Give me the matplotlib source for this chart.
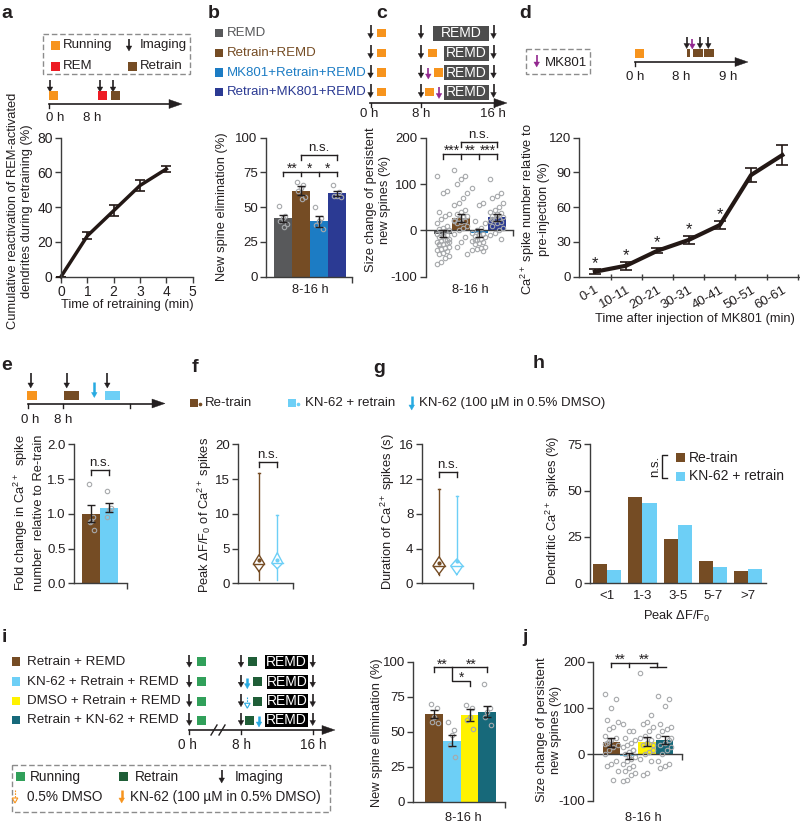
import numpy as np
import matplotlib
matplotlib.use('Agg')
import matplotlib.pyplot as plt
from matplotlib.patches import Rectangle, Polygon

plt.rcParams['font.family'] = ['Liberation Sans', 'DejaVu Sans']
plt.rcParams['mathtext.fontset'] = 'custom'
plt.rcParams['mathtext.rm'] = 'Liberation Sans'
plt.rcParams['mathtext.it'] = 'Liberation Sans:italic'
plt.rcParams['mathtext.bf'] = 'Liberation Sans:bold'
plt.rcParams['axes.unicode_minus'] = False
plt.rcParams['font.size'] = 9.5

TXT = '#231f20'
SP = '#3c3c3c'
PT = '#a7a9ac'
ORANGE = '#f7941d'; RED = '#ed1c24'; BROWN = '#754c24'; DGRAY = '#58595b'
MKBLUE = '#1c7cc4'; NAVY = '#2b3a93'; PURPLE = '#92278f'; LBLUE = '#6dcff6'
CYAN = '#27aae1'; YELLOW = '#fff200'; TEAL = '#17697a'; GREEN = '#31a05a'; DGREEN = '#1f5e37'
FL = 9.3    # axis label size
FT = 9.5    # tick label size
FG = 9.5    # legend text size

# ---------------- data ----------------
a_time = [0, 1, 2, 3, 4]
a_react = [0, 23.5, 38, 52.5, 62]
a_err = [0, 2, 3, 3, 1.5]

b_groups = ['REMD', 'Retrain+REMD', 'MK801+Retrain+REMD', 'Retrain+MK801+REMD']
b_colors = [DGRAY, BROWN, MKBLUE, NAVY]
b_elim = [42, 62, 40, 60]
b_sem = [2.5, 3, 4, 2]
b_pts = [[51, 44, 42, 40, 38, 36],
         [68, 66, 64, 62, 57, 56],
         [50, 42, 40, 37, 34],
         [66, 61, 58, 58, 57]]

c_size = [-7, 27, -6, 28]
c_sem = [8, 9, 9, 8]
c_pts = [[118, 85, 80, 40, 35, 30, 25, 15, 10, 5, 3, 0, -2, -5, -8, -10, -12, -15, -18, -20,
          -22, -25, -27, -30, -32, -35, -38, -40, -42, -45, -48, -50, -55, -60, -68, -72, -20, -10, -30, -25],
         [130, 118, 110, 100, 80, 70, 60, 55, 45, 40, 35, 30, 28, 25, 22, 20, 18, 15, 10, 5,
          0, -8, -15, -25, -35, -52, 30, 25, 20],
         [92, 60, 55, 20, 15, 5, 0, -5, -8, -10, -12, -15, -18, -20, -22, -25, -28, -30, -35, -38,
          -40, -42, -45, -10, -20],
         [110, 80, 75, 70, 60, 50, 45, 40, 38, 35, 30, 28, 25, 22, 20, 18, 15, 10, 5, 0,
          -5, -10, -18, 30, 25]]

d_cats = ['0-1', '10-11', '20-21', '30-31', '40-41', '50-51', '60-61']
d_val = [4.3, 9.5, 22.4, 31.7, 44.6, 87.8, 105]
d_err = [2, 3.3, 2, 3.7, 3.6, 6, 9]
d_sig = [True, True, True, True, True, False, False]

e_groups = ['Re-train', 'KN-62 + retrain']
e_colors = [BROWN, LBLUE]
e_fold = [1.0, 1.09]
e_sem = [0.12, 0.07]
e_pts = [[1.43, 0.95, 0.9, 0.88, 0.76], [1.33, 1.08, 1.05, 0.96]]

# violin-style summaries: min, diamond low, median, mean, diamond high, max
f_min = [0.5, 0.5]; f_low = [1.7, 2.1]; f_med = [2.8, 2.9]; f_mean = [3.3, 3.4]; f_high = [4.1, 4.4]; f_max = [15.8, 9.8]
g_min = [1.0, 1.0]; g_low = [1.07, 1.0]; g_med = [2.0, 2.0]; g_mean = [2.3, 2.6]; g_high = [3.06, 2.8]; g_max = [10.9, 10.0]

h_bins = ['<1', '1-3', '3-5', '5-7', '>7']
h_retrain = [10.3, 46.4, 23.7, 12.0, 6.6]
h_kn62 = [7.2, 43.5, 31.3, 9.0, 7.7]

i_groups = ['Retrain + REMD', 'KN-62 + Retrain + REMD', 'DMSO + Retrain + REMD', 'Retrain + KN-62 + REMD']
i_colors = [BROWN, LBLUE, YELLOW, TEAL]
i_elim = [62.5, 43.5, 62, 64.3]
i_sem = [3, 4, 4, 4]
i_pts = [[70, 66.7, 60.7, 57, 56],
         [57, 51, 47.6, 40.5, 32],
         [69, 66.7, 60.7, 58.4, 51.7],
         [84, 66.7, 64, 60.7, 54.8]]

j_size = [26, -4, 27, 31]
j_sem = [10, 7, 10, 9]
j_pts = [[130, 120, 100, 75, 70, 60, 55, 40, 35, 30, 25, 20, 15, 10, 0, -15, -20, -25, -35, -55, 28, 22],
         [65, 50, 50, 35, 30, 25, 20, 15, 10, 5, 0, -5, -10, -15, -20, -25, -30, -35, -40, -45, -55, -58, 10, -5],
         [175, 85, 70, 65, 60, 50, 40, 35, 30, 25, 20, 10, 5, 0, -10, -15, -40, -45, 20],
         [125, 120, 105, 65, 60, 55, 50, 40, 30, 25, 20, 15, 10, 0, -15, -20, -25, -30, 35]]

# ---------------- figure ----------------
W, H = 800, 824
fig = plt.figure(figsize=(8, 8.24), dpi=100)
ov = fig.add_axes([0, 0, 1, 1])
ov.set_xlim(0, W); ov.set_ylim(H, 0); ov.axis('off')


def add_ax(l, t, r, b):
    ax = fig.add_axes([l / W, 1 - b / H, (r - l) / W, (b - t) / H])
    ax.set_facecolor('none')
    for s in ('top', 'right'):
        ax.spines[s].set_visible(False)
    for s in ('left', 'bottom'):
        ax.spines[s].set_color(SP); ax.spines[s].set_linewidth(1.0)
    ax.tick_params(direction='out', length=4, width=1, colors=SP, labelcolor=TXT, labelsize=FT, pad=2)
    return ax


def t(x, y, s, **kw):
    kw.setdefault('color', TXT); kw.setdefault('fontsize', FG)
    kw.setdefault('va', 'center')
    ov.text(x, y, s, **kw)


def sq(x, y, c, w=9, h=None):
    h = w if h is None else h
    ov.add_patch(Rectangle((x - w / 2, y - h / 2), w, h, facecolor=c, edgecolor='none', lw=0))


def darrow(x, ytop, ybot, c=TXT, hollow=False, lw=1.2):
    head = 5
    if hollow:
        ov.plot([x, x], [ytop, ybot - head], color=c, lw=0.8, ls=(0, (1.5, 1)))
        ov.add_patch(Polygon([(x - 2.8, ybot - head), (x + 2.8, ybot - head), (x, ybot)], closed=True,
                             facecolor='white', edgecolor=c, lw=0.8))
    else:
        ov.plot([x, x], [ytop, ybot - head + 1], color=c, lw=lw, solid_capstyle='butt')
        ov.add_patch(Polygon([(x - 2.8, ybot - head), (x + 2.8, ybot - head), (x, ybot)], closed=True,
                             facecolor=c, edgecolor=c, lw=0.3))


def taxis(x0, x1, y, ticks):
    ov.plot([x0, x1 - 10], [y, y], color=TXT, lw=1.2)
    ov.add_patch(Polygon([(x1 - 13, y - 4.5), (x1 - 13, y + 4.5), (x1, y)], closed=True,
                         facecolor=TXT, edgecolor=TXT, lw=0.3))
    for tk in ticks:
        ov.plot([tk, tk], [y, y + 4], color=TXT, lw=1)


def dbox(x0, y0, x1, y1):
    ov.add_patch(Rectangle((x0, y0), x1 - x0, y1 - y0, facecolor='none', edgecolor='#8c8c8c',
                           lw=1, ls=(0, (4, 2))))


def remd(x0, x1, y, c, h=15, fs=10):
    ov.add_patch(Rectangle((x0, y - h / 2), x1 - x0, h, facecolor=c, edgecolor='none'))
    t((x0 + x1) / 2, y, 'REMD', ha='center', color='white', fontsize=fs)


def plabel(x, y, s):
    t(x, y, s, fontweight='bold', fontsize=14, ha='left')


def bracket(ax, xs, y, drop, lw=1):
    ax.plot([min(xs), max(xs)], [y, y], color=TXT, lw=lw, clip_on=False)
    for xx in xs:
        ax.plot([xx, xx], [y, y - drop], color=TXT, lw=lw, clip_on=False)


def stars(ax, x, y, s, fs=10):
    ax.text(x, y, s, ha='center', va='baseline', fontsize=fs, color=TXT, clip_on=False)


def ns(ax, x, y):
    ax.text(x, y, 'n.s.', ha='center', va='bottom', fontsize=FG, color=TXT, clip_on=False)


def jitter(n, spread):
    return [(((k * 5) % 7) - 3) / 3.0 * spread for k in range(n)]


def dots(ax, i, vals, spread):
    off = jitter(len(vals), spread)
    ax.plot([i + o for o in off], vals, 'o', ms=3.2, mfc='none', mec=PT, mew=0.8, clip_on=False, zorder=3)


def errs(ax, x, m, e, cap=3):
    ax.errorbar(x, m, yerr=e, fmt='none', ecolor=TXT, elinewidth=1, capsize=cap, capthick=1, zorder=4, clip_on=False)


def ylab(x, y, s, ls=1.25):
    t(x, y, s, rotation=90, ha='center', multialignment='center', fontsize=FL, linespacing=ls)


# ================= panel a =================
plabel(1, 13, 'a')
dbox(43, 34, 190, 74)
sq(55, 45, ORANGE); t(63, 45, 'Running')
darrow(129, 39, 51); t(140, 45, 'Imaging')
sq(55, 66, RED); t(63, 66, 'REM')
sq(132, 66, BROWN); t(140, 66, 'Retrain')
for ax_ in (50, 100, 113):
    darrow(ax_, 80, 92)
sq(53, 95.5, ORANGE); sq(102.7, 95.5, RED); sq(115.7, 95.5, BROWN)
taxis(49, 182, 104, [49])
t(55, 118, '0 h', ha='center'); t(92, 118, '8 h', ha='center')

axa = add_ax(61, 137.7, 192.7, 276.7)
axa.set_xlim(0, 5); axa.set_ylim(0, 80)
axa.set_xticks(range(6)); axa.set_yticks([0, 20, 40, 60, 80])
axa.tick_params(labelsize=10)
axa.errorbar(a_time, a_react, yerr=a_err, color='#231815', lw=2.5, elinewidth=1.2, capsize=3.5,
             capthick=1.2, clip_on=False)
ylab(20, 211, 'Cumulative reactivation of REM-activated\ndendrites during retraining (%)', ls=1.3)
t(127, 305, 'Time of retraining (min)', ha='center', fontsize=FL)

# ================= panel b =================
plabel(208, 13, 'b')
for k, (g, c) in enumerate(zip(b_groups, b_colors)):
    yy = [33, 53, 72.5, 92][k]
    sq(219, yy, c, w=8.5)
    t(227, yy, g, color=c, fontsize=FG)

axb = add_ax(266, 137.7, 352, 276.7)
xb = np.arange(4)
axb.set_xlim(-0.94, 3.86); axb.set_ylim(0, 100)
axb.bar(xb, b_elim, width=1.0, color=b_colors, zorder=2)
for k in range(4):
    dots(axb, k, b_pts[k], 0.22)
errs(axb, xb, b_elim, b_sem)
axb.set_yticks([0, 25, 50, 75, 100])
axb.set_xticks([3.86]); axb.set_xticklabels([''])
bracket(axb, [0, 1, 2, 3], 75.5, 3.2)
stars(axb, 0.5, 74.5, '**'); stars(axb, 1.5, 74.5, '*'); stars(axb, 2.5, 74.5, '*')
bracket(axb, [1, 3], 87.5, 3.2)
ns(axb, 2, 88)
ylab(222, 207, 'New spine elimination (%)')
t(310, 290, '8-16 h', ha='center', fontsize=FL)

# ================= panel c =================
plabel(376, 13, 'c')
rows_c = [33, 53, 72.5, 92]
for k, yy in enumerate(rows_c):
    for xx in (370.5, 421, 493.5):
        darrow(xx, yy - 8, yy + 5.5)
    sq(381.7, yy, ORANGE, w=8.5)
remd(433.3, 489.3, rows_c[0], '#4d4d4d')
sq(432.7, rows_c[1], ORANGE, w=8.5); remd(444, 489.3, rows_c[1], '#4d4d4d')
darrow(428.3, rows_c[2] - 5, rows_c[2] + 6.5, c=PURPLE); sq(438.3, rows_c[2], ORANGE, w=8.5)
remd(444, 489.3, rows_c[2], '#4d4d4d')
sq(429.3, rows_c[3], ORANGE, w=8.5); darrow(439, rows_c[3] - 5, rows_c[3] + 6.5, c=PURPLE)
remd(444, 489.3, rows_c[3], '#4d4d4d')
taxis(370, 507, 103, [370.5, 421, 493.5])
t(369, 114, '0 h', ha='center'); t(421.5, 114, '8 h', ha='center'); t(493, 114, '16 h', ha='center')

axc = add_ax(425.7, 137.7, 513.3, 276.7)
axc.set_xlim(-0.97, 3.93); axc.set_ylim(-100, 200)
axc.spines['bottom'].set_position(('data', 0))
axc.bar(xb, c_size, width=1.0, color=b_colors, zorder=2)
for k in range(4):
    dots(axc, k, c_pts[k], 0.36)
errs(axc, xb, c_size, c_sem)
axc.set_yticks([-100, 0, 100, 200])
axc.set_xticks([3.93]); axc.set_xticklabels([''])
bracket(axc, [0, 1, 2, 3], 165, 11)
stars(axc, 0.5, 163, '***'); stars(axc, 1.5, 163, '**'); stars(axc, 2.5, 163, '***')
bracket(axc, [1, 3], 191, 10)
ns(axc, 2, 192)
ylab(378, 200, 'Size change of persistent\nnew spines (%)')
t(470, 290, '8-16 h', ha='center', fontsize=FL)

# ================= panel d =================
plabel(519, 13, 'd')
dbox(526, 49, 590, 74)
darrow(536.7, 55, 67, c=PURPLE); t(545, 62.5, 'MK801')
sq(639.5, 53.3, ORANGE, w=8.5)
sq(688, 53, BROWN, w=3, h=8.5)
sq(698, 53, BROWN, w=10, h=8.5); sq(709.2, 53, BROWN, w=10, h=8.5)
for xx in (686.7, 700, 708.3):
    darrow(xx, 36.5, 48.5)
darrow(692.3, 39, 49, c=PURPLE)
taxis(635, 748, 62, [635])
t(635, 77, '0 h', ha='center'); t(681.3, 77, '8 h', ha='center'); t(728.3, 77, '9 h', ha='center')

axd = add_ax(579.3, 137.7, 799.5, 276.7)
axd.set_xlim(-0.5, 6.55); axd.set_ylim(0, 120)
axd.errorbar(range(len(d_val)), d_val, yerr=d_err, color='#231815', lw=3, elinewidth=1.2, capsize=4,
             capthick=1.2, clip_on=False)
for k, s in enumerate(d_sig):
    if s:
        stars(axd, k, d_val[k] + d_err[k] + 1.5, '*', fs=12)
axd.set_yticks([0, 30, 60, 90, 120])
axd.set_xticks(range(len(d_cats)))
axd.set_xticklabels(d_cats, rotation=30, ha='right', va='top', rotation_mode='anchor')
axd.tick_params(axis='x', length=0, pad=5)
axd.set_xticks([k + 0.5 for k in range(7)], minor=True)
axd.tick_params(axis='x', which='minor', direction='inout', length=4, width=1, color=SP)
ylab(534.5, 209, 'Ca$^{2+}$ spike number relative to\npre-injection (%)', ls=1.15)
t(695, 319, 'Time after injection of MK801 (min)', ha='center', fontsize=FL)

# ================= panel e =================
plabel(1, 365, 'e')
for xx in (30.7, 66.7, 107.3):
    darrow(xx, 373, 388)
darrow(94.3, 381.5, 397.5, c=CYAN, lw=1.8)
sq(32, 395.5, ORANGE, w=9.3, h=9.5)
sq(71.7, 395.5, BROWN, w=15.3, h=9.5)
sq(112.5, 395.5, LBLUE, w=15, h=9.5)
taxis(28.3, 165, 403.5, [28.3, 63.3, 130])
t(30, 420, '0 h', ha='center'); t(63.3, 420, '8 h', ha='center')

axe = add_ax(74, 444.3, 126.7, 583.3)
axe.set_xlim(-0.97, 1.98); axe.set_ylim(0, 2.0)
axe.bar([0, 1], e_fold, width=1.0, color=e_colors, zorder=2)
for k in range(2):
    dots(axe, k, e_pts[k], 0.15)
errs(axe, [0, 1], e_fold, e_sem)
axe.set_yticks([0, 0.5, 1.0, 1.5, 2.0])
axe.set_yticklabels(['0.0', '0.5', '1.0', '1.5', '2.0'])
axe.set_xticks([1.98]); axe.set_xticklabels([''])
bracket(axe, [0, 1], 1.63, 0.065)
ns(axe, 0.5, 1.645)
ylab(28.5, 513, 'Fold change in Ca$^{2+}$  spike\nnumber  relative to Re-train')

# ================= panel f legend =================
plabel(192, 367, 'f')
sq(193.5, 403, BROWN, w=8, h=8)
ov.plot([199.5], [404], 'o', color=BROWN, ms=1.6)
t(205, 403, 'Re-train')
sq(291.5, 403, LBLUE, w=8, h=8)
ov.plot([298], [404], 'o', color=LBLUE, ms=1.6)
t(305, 403, 'KN-62 + retrain')
darrow(411.7, 396, 410, c=CYAN, lw=1.8)
t(419, 403, 'KN-62 (100 µM in 0.5% DMSO)')


def violin(ax, k, vmin, low, med, mean, high, vmax, c, hw):
    ax.plot([k, k], [vmin, low], color=c, lw=1, clip_on=False)
    ax.plot([k, k], [high, vmax], color=c, lw=1, clip_on=False)
    ax.plot([k - 0.06, k + 0.06], [vmax, vmax], color=c, lw=1)
    ax.plot([k, k - hw, k, k + hw, k], [low, med, high, med, low], color=c, lw=1)
    ax.plot([k - hw, k + hw], [med, med], color=c, lw=1)
    ax.plot([k], [mean], 'o', color=c, ms=2)


axf = add_ax(238.3, 444.3, 293, 583.3)
axf.set_xlim(-1.13, 1.86); axf.set_ylim(0, 20)
for k in range(2):
    violin(axf, k, f_min[k], f_low[k], f_med[k], f_mean[k], f_high[k], f_max[k], e_colors[k], 0.3)
axf.set_yticks([0, 5, 10, 15, 20])
axf.set_xticks([1.86]); axf.set_xticklabels([''])
bracket(axf, [0, 1], 17.5, 0.7)
ns(axf, 0.5, 17.6)
ylab(205, 515, 'Peak ΔF/F$_0$ of Ca$^{2+}$ spikes')

# ================= panel g =================
plabel(373, 368, 'g')
axg = add_ax(421.7, 444.3, 472.7, 583.3)
axg.set_xlim(-0.98, 1.9); axg.set_ylim(0, 16)
for k in range(2):
    violin(axg, k, g_min[k], g_low[k], g_med[k], g_mean[k], g_high[k], g_max[k], e_colors[k], 0.34)
axg.set_yticks([0, 4, 8, 12, 16])
axg.set_xticks([1.9]); axg.set_xticklabels([''])
bracket(axg, [0, 1], 12.8, 0.55)
ns(axg, 0.5, 12.9)
ylab(388, 512, 'Duration of Ca$^{2+}$ spikes (s)')

# ================= panel h =================
plabel(533, 363, 'h')
axh = add_ax(590, 444.3, 765.7, 583.3)
xh = np.arange(len(h_bins))
axh.set_xlim(-0.49, 4.5); axh.set_ylim(0, 75)
axh.bar(xh - 0.2, h_retrain, width=0.4, color=BROWN)
axh.bar(xh + 0.2, h_kn62, width=0.4, color=LBLUE)
axh.set_yticks([0, 25, 50, 75])
axh.set_xticks(xh); axh.set_xticklabels(h_bins)
axh.tick_params(axis='x', length=0, pad=5)
sq(680.5, 457.5, BROWN, w=9); t(689, 457.5, 'Re-train', fontsize=10)
sq(680.5, 476, LBLUE, w=9); t(689, 476, 'KN-62 + retrain', fontsize=10)
t(655, 466, 'n.s.', rotation=90, ha='center')
ov.plot([667, 662, 662, 667], [455, 455, 478, 478], color=TXT, lw=1)
ylab(553.3, 510, 'Dendritic Ca$^{2+}$ spikes (%)')
t(677, 616, 'Peak ΔF/F$_0$', ha='center', fontsize=FL)

# ================= panel i =================
plabel(2, 638, 'i')
rows_i = [661.7, 681.7, 701.2, 720]
for k, (g, c) in enumerate(zip(i_groups, i_colors)):
    sq(16, rows_i[k], c, w=8.5)
    t(26.7, rows_i[k], g, fontsize=9.6)
    for xx in (189.3, 241, 312.7):
        darrow(xx, rows_i[k] - 7, rows_i[k] + 5.5)
    sq(201.7, rows_i[k], GREEN, w=9)
sq(252.7, rows_i[0], DGREEN, w=9); remd(265, 308.3, rows_i[0], 'black', h=14)
darrow(247.3, rows_i[1] - 4, rows_i[1] + 7, c=CYAN, lw=1.8); sq(257.3, rows_i[1], DGREEN, w=9)
remd(266.5, 308.3, rows_i[1], 'black', h=14)
darrow(247.3, rows_i[2] - 4, rows_i[2] + 7, c=CYAN, hollow=True); sq(257.3, rows_i[2], DGREEN, w=9)
remd(266.5, 308.3, rows_i[2], 'black', h=14)
sq(249.3, rows_i[3], DGREEN, w=9); darrow(259, rows_i[3] - 4, rows_i[3] + 7, c=CYAN, lw=1.8)
remd(265, 308.3, rows_i[3], 'black', h=14)
taxis(189.3, 335, 730, [189.3, 241, 312.7])
for xx in (214, 222):
    ov.plot([xx - 3, xx + 3], [735, 725], color=TXT, lw=1)
t(187, 745, '0 h', ha='center', fontsize=9.8); t(241, 745, '8 h', ha='center', fontsize=9.8)
t(313, 745, '16 h', ha='center', fontsize=9.8)
dbox(11.7, 765, 330, 811.7)
sq(20, 776.7, GREEN, w=9); t(30, 776.7, 'Running', fontsize=9.8)
sq(123.3, 776.7, DGREEN, w=9); t(135, 776.7, 'Retrain', fontsize=9.8)
darrow(221.7, 770, 783); t(235, 776.7, 'Imaging', fontsize=9.8)
darrow(15, 790, 803, c=ORANGE, hollow=True); t(26.7, 797.3, '0.5% DMSO', fontsize=9.8)
darrow(121.7, 790, 803, c=ORANGE, lw=1.8); t(130, 797.3, 'KN-62 (100 µM in 0.5% DMSO)', fontsize=9.8)

axi = add_ax(413.3, 661.7, 505, 801.7)
xi = np.arange(4)
axi.set_xlim(-1.18, 4.0); axi.set_ylim(0, 100)
axi.bar(xi, i_elim, width=1.0, color=i_colors, zorder=2)
for k in range(4):
    dots(axi, k, i_pts[k], 0.2)
errs(axi, xi, i_elim, i_sem)
axi.set_yticks([0, 25, 50, 75, 100])
axi.set_xticks([4.0]); axi.set_xticklabels([''])
bracket(axi, [0, 3], 96, 3.5)
axi.plot([1, 1, 2, 2], [96, 86.4, 86.4, 82.6], color=TXT, lw=1, clip_on=False)
stars(axi, 0.45, 95, '**'); stars(axi, 2.1, 95, '**'); stars(axi, 1.55, 85.4, '*')
ylab(377, 733, 'New spine elimination (%)')
t(463, 818, '8-16 h', ha='center', fontsize=FL)

# ================= panel j =================
plabel(522, 638, 'j')
axj = add_ax(593.3, 661.7, 681.7, 800.7)
axj.set_xlim(-1.02, 3.97); axj.set_ylim(-100, 200)
axj.spines['bottom'].set_position(('data', 0))
axj.bar(xi, j_size, width=1.0, color=i_colors, zorder=2)
for k in range(4):
    dots(axj, k, j_pts[k], 0.36)
errs(axj, xi, j_size, j_sem)
axj.set_yticks([-100, 0, 100, 200])
axj.set_xticks([3.97]); axj.set_xticklabels([''])
bracket(axj, [0, 1, 2.56], 198, 10)
axj.plot([2.2, 3.1], [188, 188], color=TXT, lw=1, clip_on=False)
stars(axj, 0.5, 195, '**'); stars(axj, 1.85, 195, '**')
ylab(549, 730, 'Size change of persistent\nnew spines (%)', ls=1.2)
t(643, 818, '8-16 h', ha='center', fontsize=FL)

fig.savefig('out.png', dpi=100)
